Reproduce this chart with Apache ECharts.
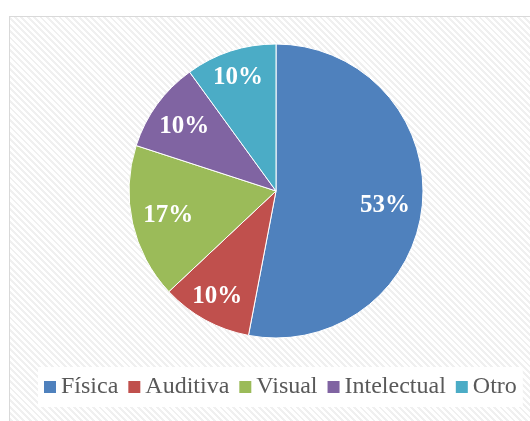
<!DOCTYPE html>
<html>
<head>
<meta charset="utf-8">
<script src="https://cdn.jsdelivr.net/npm/echarts@6/dist/echarts.min.js"></script>
<style>
html, body { margin:0; padding:0; background:#fff; }
#frame {
    position:absolute; left:9px; top:16px; width:540px; height:420px;
    border:1px solid #d9d9d9;
    background: repeating-linear-gradient(45deg, #ffffff 0px, #ffffff 2.5px, #f0f0f0 2.5px, #f0f0f0 4.5px);
}
#chart { position:absolute; left:0; top:0; width:530px; height:421px; }
</style>
</head>
<body>
<div id="frame"></div>
<div id="chart"></div>
<script>
var categorias = ['Física', 'Auditiva', 'Visual', 'Intelectual', 'Otro'];
var valores = [53, 10, 17, 10, 10];
var colores = ['#4F81BD', '#C0504D', '#9BBB59', '#8064A2', '#4BACC6'];

// ajuste fino de etiquetas (estilo "mejor ajuste" de Excel)
var desplazamientos = [[-4, 4], [-4, 6], [3, 0], [0, 2], [-3, -6]];

var datos = [];
var datosEtiquetas = [];
for (var i = 0; i < categorias.length; i++) {
    datos.push({ name: categorias[i], value: valores[i] });
    datosEtiquetas.push({
        name: categorias[i],
        value: valores[i],
        label: { offset: desplazamientos[i] }
    });
}

var myChart = echarts.init(document.getElementById('chart'));
var option = {
    color: colores,
    animation: false,
    legend: {
        data: categorias,
        left: 38,
        top: 367,
        padding: [8, 6, 8, 6],
        backgroundColor: '#fff',
        itemWidth: 12,
        itemHeight: 12,
        itemGap: 10,
        icon: 'rect',
        itemStyle: { borderWidth: 0 },
        textStyle: {
            fontFamily: 'Liberation Serif',
            fontSize: 24,
            color: '#595959'
        }
    },
    series: [
        {
            name: 'pie',
            type: 'pie',
            center: [276, 191],
            radius: 147,
            startAngle: 90,
            data: datos,
            itemStyle: { borderColor: '#fff', borderWidth: 1 },
            label: { show: false },
            labelLine: { show: false },
            emphasis: { disabled: true }
        },
        {
            name: 'etiquetas',
            type: 'pie',
            center: [276, 191],
            radius: [74, 147],
            startAngle: 90,
            silent: true,
            data: datosEtiquetas,
            itemStyle: { color: 'transparent' },
            label: {
                show: true,
                position: 'inner',
                formatter: '{d}%',
                color: '#fff',
                fontFamily: 'Liberation Serif',
                fontWeight: 'bold',
                fontSize: 25
            },
            labelLine: { show: false },
            emphasis: { disabled: true }
        }
    ]
};
myChart.setOption(option);
</script>
</body>
</html>
